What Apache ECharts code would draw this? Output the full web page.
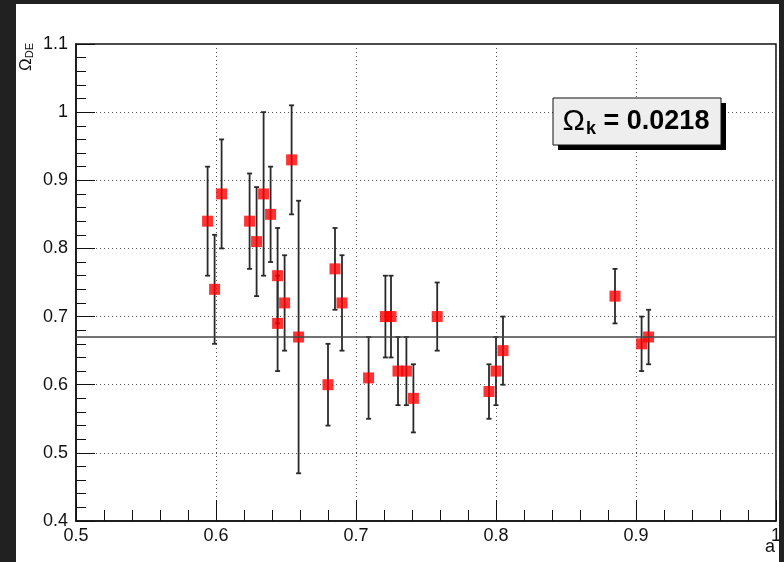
<!DOCTYPE html>
<html>
<head>
<meta charset="utf-8">
<script src="https://cdn.jsdelivr.net/npm/echarts@6/dist/echarts.min.js"></script>
<style>
  html, body { margin: 0; padding: 0; background: #212121; }
  #paper { position: absolute; left: 16px; top: 4px; width: 763px; height: 558px; background: #ffffff; }
  #chart { position: absolute; left: 0; top: 0; width: 784px; height: 562px; }
</style>
</head>
<body>
<div id="paper"></div>
<div id="chart"></div>
<script>
// ---- data ----
const xVals = [0.594, 0.599, 0.604, 0.624, 0.629, 0.634, 0.639, 0.644, 0.644, 0.649, 0.654, 0.659,
               0.680, 0.685, 0.690, 0.709, 0.721, 0.725, 0.730, 0.736, 0.741, 0.758,
               0.795, 0.800, 0.805, 0.885, 0.904, 0.909];
const yVals = [0.84, 0.74, 0.88, 0.84, 0.81, 0.88, 0.85, 0.76, 0.69, 0.72, 0.93, 0.67,
               0.60, 0.77, 0.72, 0.61, 0.70, 0.70, 0.62, 0.62, 0.58, 0.70,
               0.59, 0.62, 0.65, 0.73, 0.66, 0.67];
const yLow  = [0.76, 0.66, 0.80, 0.77, 0.73, 0.76, 0.78, 0.69, 0.62, 0.65, 0.85, 0.47,
               0.54, 0.71, 0.65, 0.55, 0.64, 0.64, 0.57, 0.57, 0.53, 0.65,
               0.55, 0.57, 0.60, 0.69, 0.62, 0.63];
const yHigh = [0.92, 0.82, 0.96, 0.91, 0.89, 1.00, 0.92, 0.83, 0.76, 0.79, 1.01, 0.87,
               0.66, 0.83, 0.79, 0.67, 0.76, 0.76, 0.67, 0.67, 0.63, 0.75,
               0.63, 0.67, 0.70, 0.77, 0.70, 0.71];
const fitValue = 0.672;
const xTicks = [0.5, 0.6, 0.7, 0.8, 0.9, 1.0];
const yTicks = [0.4, 0.5, 0.6, 0.7, 0.8, 0.9, 1.0, 1.1];
const boxText = '0.0218';

const FONT = '"Liberation Sans", Arial, sans-serif';
const fmt = v => String(+(+v).toFixed(2));

const chart = echarts.init(document.getElementById('chart'), null, { renderer: 'canvas' });

const points = xVals.map((x, i) => [x, yVals[i]]);
const bars = xVals.map((x, i) => [x, yLow[i], yHigh[i]]);

chart.setOption({
  backgroundColor: 'transparent',
  animation: false,
  grid: { left: 76, right: 7, top: 44, bottom: 41, show: true, borderColor: '#111', borderWidth: 1.5, backgroundColor: 'transparent' },
  xAxis: {
    type: 'value', min: xTicks[0], max: xTicks[xTicks.length - 1], interval: 0.1,
    axisLine: { show: true, lineStyle: { color: '#111', width: 1.5 } },
    axisTick: { show: true, inside: true, length: 21, lineStyle: { color: '#111', width: 1 } },
    minorTick: { show: true, splitNumber: 5, length: 11, lineStyle: { color: '#111', width: 1 } },
    splitLine: { show: true, lineStyle: { color: '#555', width: 1, type: [1, 3] } },
    axisLabel: { color: '#111', fontSize: 18, fontFamily: FONT, margin: 6, formatter: fmt, showMinLabel: true, showMaxLabel: true }
  },
  yAxis: {
    type: 'value', min: yTicks[0], max: yTicks[yTicks.length - 1], interval: 0.1,
    axisLine: { show: true, lineStyle: { color: '#111', width: 1.5 } },
    axisTick: { show: true, inside: true, length: 19, lineStyle: { color: '#111', width: 1 } },
    minorTick: { show: true, splitNumber: 5, length: 10, lineStyle: { color: '#111', width: 1 } },
    splitLine: { show: true, lineStyle: { color: '#555', width: 1, type: [1, 3] } },
    axisLabel: { color: '#111', fontSize: 18, fontFamily: FONT, margin: 8, formatter: fmt, showMinLabel: true, showMaxLabel: true }
  },
  series: [
    {
      type: 'custom',
      z: 3,
      data: bars,
      renderItem: function (params, api) {
        const x = api.value(0);
        const lo = api.coord([x, api.value(1)]);
        const hi = api.coord([x, api.value(2)]);
        const cap = 2.5;
        const st = { stroke: '#2a2a2a', lineWidth: 1.8 };
        return {
          type: 'group',
          children: [
            { type: 'line', shape: { x1: lo[0], y1: lo[1], x2: hi[0], y2: hi[1] }, style: st },
            { type: 'line', shape: { x1: lo[0] - cap, y1: lo[1], x2: lo[0] + cap, y2: lo[1] }, style: st },
            { type: 'line', shape: { x1: hi[0] - cap, y1: hi[1], x2: hi[0] + cap, y2: hi[1] }, style: st }
          ]
        };
      }
    },
    {
      type: 'scatter',
      z: 4,
      symbol: 'rect',
      symbolSize: 11,
      itemStyle: { color: '#ff0000' },
      data: points,
      markLine: {
        silent: true,
        symbol: ['none', 'none'],
        label: { show: false },
        lineStyle: { color: '#444', width: 1.5, type: 'solid' },
        data: [{ yAxis: fitValue }]
      }
    }
  ],
  graphic: [
    { type: 'rect', z: 10, shape: { x: 558, y: 103, width: 168, height: 47 }, style: { fill: '#000' } },
    { type: 'rect', z: 11, shape: { x: 553, y: 98, width: 168, height: 47 }, style: { fill: '#eeeeee', stroke: '#111', lineWidth: 1 } },
    {
      type: 'text', z: 12, x: 636, y: 122,
      style: {
        text: '{o|Ω}{s|k}{a| = ' + boxText + '}',
        textAlign: 'center', textVerticalAlign: 'middle',
        rich: {
          o: { fontSize: 30, fontFamily: FONT, fill: '#000', lineHeight: 32, verticalAlign: 'middle' },
          s: { fontSize: 18, fontWeight: 'bold', fontFamily: FONT, fill: '#000', lineHeight: 32, verticalAlign: 'bottom', padding: [14, 0, 0, 1] },
          a: { fontSize: 27, fontWeight: 'bold', fontFamily: FONT, fill: '#000', lineHeight: 32, verticalAlign: 'middle' }
        }
      }
    },
    {
      type: 'text', z: 12, x: 26, y: 57, rotation: Math.PI / 2,
      style: {
        text: '{o|Ω}{s|DE}',
        textAlign: 'center', textVerticalAlign: 'middle',
        rich: {
          o: { fontSize: 17, fontFamily: FONT, fill: '#111', lineHeight: 18 },
          s: { fontSize: 11, fontFamily: FONT, fill: '#111', lineHeight: 18, verticalAlign: 'bottom', padding: [6, 0, 0, 0] }
        }
      }
    },
    {
      type: 'text', z: 12, x: 775, y: 547,
      style: { text: 'a', fontSize: 18, fontFamily: FONT, fill: '#111', textAlign: 'right', textVerticalAlign: 'middle' }
    }
  ]
});
</script>
</body>
</html>
